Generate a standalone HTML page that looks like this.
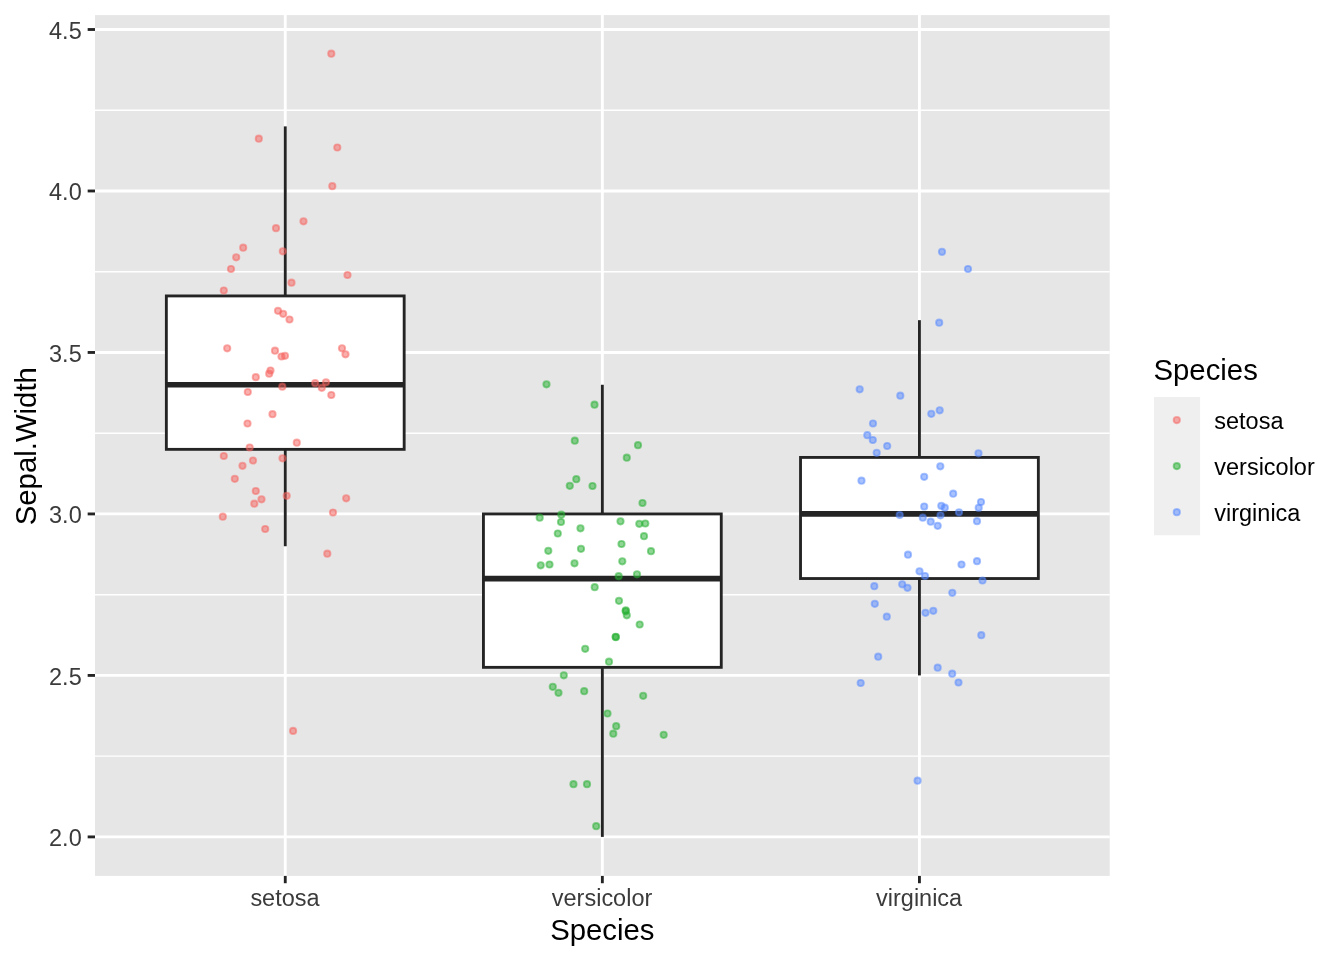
<!DOCTYPE html>
<html lang="en"><head><meta charset="utf-8"><title>Sepal.Width by Species</title>
<style>html,body{margin:0;padding:0;background:#fff}body{width:1344px;height:960px;overflow:hidden}svg{display:block}</style>
</head><body>
<svg width="1344" height="960" viewBox="0 0 1344 960" font-family="'Liberation Sans', Arial, Helvetica, sans-serif">
<rect width="1344" height="960" fill="#fff"/>
<rect x="95.0" y="15.1" width="1014.70" height="860.80" fill="#E6E6E6"/>
<g stroke="#fff" stroke-width="1.42" fill="none">
<line x1="95.0" x2="1109.7" y1="756.16" y2="756.16"/>
<line x1="95.0" x2="1109.7" y1="594.68" y2="594.68"/>
<line x1="95.0" x2="1109.7" y1="433.20" y2="433.20"/>
<line x1="95.0" x2="1109.7" y1="271.72" y2="271.72"/>
<line x1="95.0" x2="1109.7" y1="110.24" y2="110.24"/>
</g>
<g stroke="#fff" stroke-width="2.85" fill="none">
<line x1="95.0" x2="1109.7" y1="836.90" y2="836.90"/>
<line x1="95.0" x2="1109.7" y1="675.42" y2="675.42"/>
<line x1="95.0" x2="1109.7" y1="513.94" y2="513.94"/>
<line x1="95.0" x2="1109.7" y1="352.46" y2="352.46"/>
<line x1="95.0" x2="1109.7" y1="190.98" y2="190.98"/>
<line x1="95.0" x2="1109.7" y1="29.50" y2="29.50"/>
<line x1="285.26" x2="285.26" y1="15.1" y2="875.9"/>
<line x1="602.35" x2="602.35" y1="15.1" y2="875.9"/>
<line x1="919.44" x2="919.44" y1="15.1" y2="875.9"/>
</g>
<g stroke="#242424" stroke-width="2.85" fill="none" stroke-linecap="butt">
<line x1="285.26" x2="285.26" y1="126.39" y2="295.94"/>
<line x1="285.26" x2="285.26" y1="449.35" y2="546.24"/>
<rect x="166.35" y="295.94" width="237.82" height="153.41" fill="#fff" stroke-linejoin="miter"/>
<line x1="166.35" x2="404.17" y1="384.76" y2="384.76" stroke-width="5.7"/>
<line x1="602.35" x2="602.35" y1="384.76" y2="513.94"/>
<line x1="602.35" x2="602.35" y1="667.35" y2="836.90"/>
<rect x="483.44" y="513.94" width="237.82" height="153.41" fill="#fff" stroke-linejoin="miter"/>
<line x1="483.44" x2="721.26" y1="578.53" y2="578.53" stroke-width="5.7"/>
<line x1="919.44" x2="919.44" y1="320.16" y2="457.42"/>
<line x1="919.44" x2="919.44" y1="578.53" y2="675.42"/>
<rect x="800.53" y="457.42" width="237.82" height="121.11" fill="#fff" stroke-linejoin="miter"/>
<line x1="800.53" x2="1038.35" y1="513.94" y2="513.94" stroke-width="5.7"/>
</g>
<g fill="#F5635F" fill-opacity="0.515" stroke="#F5635F" stroke-opacity="0.515" stroke-width="1.9">
<circle cx="331.3" cy="53.7" r="3.15"/>
<circle cx="258.8" cy="138.7" r="3.15"/>
<circle cx="337.3" cy="147.5" r="3.15"/>
<circle cx="332.3" cy="186.2" r="3.15"/>
<circle cx="303.5" cy="221.3" r="3.15"/>
<circle cx="276.0" cy="228.2" r="3.15"/>
<circle cx="243.2" cy="247.7" r="3.15"/>
<circle cx="282.8" cy="251.3" r="3.15"/>
<circle cx="236.2" cy="257.3" r="3.15"/>
<circle cx="231.0" cy="269.0" r="3.15"/>
<circle cx="347.5" cy="275.0" r="3.15"/>
<circle cx="291.5" cy="282.7" r="3.15"/>
<circle cx="223.8" cy="290.5" r="3.15"/>
<circle cx="278.0" cy="310.8" r="3.15"/>
<circle cx="283.2" cy="313.8" r="3.15"/>
<circle cx="289.5" cy="319.5" r="3.15"/>
<circle cx="227.2" cy="348.3" r="3.15"/>
<circle cx="275.0" cy="350.7" r="3.15"/>
<circle cx="281.5" cy="356.5" r="3.15"/>
<circle cx="285.0" cy="355.8" r="3.15"/>
<circle cx="342.0" cy="348.3" r="3.15"/>
<circle cx="345.5" cy="354.3" r="3.15"/>
<circle cx="270.5" cy="370.5" r="3.15"/>
<circle cx="269.2" cy="373.7" r="3.15"/>
<circle cx="255.8" cy="377.2" r="3.15"/>
<circle cx="315.2" cy="383.2" r="3.15"/>
<circle cx="326.0" cy="382.3" r="3.15"/>
<circle cx="282.3" cy="386.7" r="3.15"/>
<circle cx="321.8" cy="387.8" r="3.15"/>
<circle cx="247.8" cy="392.0" r="3.15"/>
<circle cx="331.3" cy="395.0" r="3.15"/>
<circle cx="272.5" cy="414.2" r="3.15"/>
<circle cx="247.5" cy="423.5" r="3.15"/>
<circle cx="296.8" cy="442.7" r="3.15"/>
<circle cx="249.7" cy="447.5" r="3.15"/>
<circle cx="223.8" cy="456.0" r="3.15"/>
<circle cx="282.5" cy="458.3" r="3.15"/>
<circle cx="253.0" cy="460.5" r="3.15"/>
<circle cx="242.5" cy="465.8" r="3.15"/>
<circle cx="234.8" cy="478.8" r="3.15"/>
<circle cx="255.8" cy="491.0" r="3.15"/>
<circle cx="286.7" cy="495.8" r="3.15"/>
<circle cx="346.2" cy="498.3" r="3.15"/>
<circle cx="261.5" cy="499.3" r="3.15"/>
<circle cx="254.3" cy="503.7" r="3.15"/>
<circle cx="333.0" cy="512.5" r="3.15"/>
<circle cx="222.8" cy="516.7" r="3.15"/>
<circle cx="265.2" cy="529.0" r="3.15"/>
<circle cx="327.3" cy="553.7" r="3.15"/>
<circle cx="293.1" cy="730.9" r="3.15"/>
</g>
<g fill="#25B030" fill-opacity="0.515" stroke="#25B030" stroke-opacity="0.515" stroke-width="1.9">
<circle cx="546.5" cy="384.3" r="3.15"/>
<circle cx="594.5" cy="404.7" r="3.15"/>
<circle cx="574.8" cy="440.7" r="3.15"/>
<circle cx="638.0" cy="445.2" r="3.15"/>
<circle cx="626.8" cy="457.7" r="3.15"/>
<circle cx="576.3" cy="479.2" r="3.15"/>
<circle cx="569.8" cy="485.8" r="3.15"/>
<circle cx="592.5" cy="486.0" r="3.15"/>
<circle cx="642.5" cy="503.0" r="3.15"/>
<circle cx="561.3" cy="514.7" r="3.15"/>
<circle cx="539.7" cy="517.7" r="3.15"/>
<circle cx="561.0" cy="522.0" r="3.15"/>
<circle cx="620.5" cy="521.3" r="3.15"/>
<circle cx="639.3" cy="523.8" r="3.15"/>
<circle cx="645.3" cy="523.5" r="3.15"/>
<circle cx="580.5" cy="528.3" r="3.15"/>
<circle cx="557.8" cy="533.5" r="3.15"/>
<circle cx="644.0" cy="536.2" r="3.15"/>
<circle cx="621.5" cy="544.0" r="3.15"/>
<circle cx="581.0" cy="548.8" r="3.15"/>
<circle cx="548.3" cy="550.8" r="3.15"/>
<circle cx="651.0" cy="551.2" r="3.15"/>
<circle cx="622.3" cy="561.3" r="3.15"/>
<circle cx="574.5" cy="563.3" r="3.15"/>
<circle cx="549.5" cy="564.5" r="3.15"/>
<circle cx="540.7" cy="565.3" r="3.15"/>
<circle cx="637.0" cy="574.3" r="3.15"/>
<circle cx="618.7" cy="576.2" r="3.15"/>
<circle cx="594.7" cy="587.2" r="3.15"/>
<circle cx="619.0" cy="600.8" r="3.15"/>
<circle cx="625.8" cy="610.3" r="3.15"/>
<circle cx="625.7" cy="611.3" r="3.15"/>
<circle cx="626.8" cy="615.3" r="3.15"/>
<circle cx="639.7" cy="624.5" r="3.15"/>
<circle cx="615.7" cy="636.8" r="3.15"/>
<circle cx="615.8" cy="637.2" r="3.15"/>
<circle cx="585.2" cy="648.8" r="3.15"/>
<circle cx="609.0" cy="661.7" r="3.15"/>
<circle cx="563.8" cy="675.3" r="3.15"/>
<circle cx="552.8" cy="686.8" r="3.15"/>
<circle cx="558.5" cy="692.8" r="3.15"/>
<circle cx="584.2" cy="691.2" r="3.15"/>
<circle cx="643.2" cy="695.8" r="3.15"/>
<circle cx="607.5" cy="713.5" r="3.15"/>
<circle cx="616.2" cy="726.2" r="3.15"/>
<circle cx="613.3" cy="733.7" r="3.15"/>
<circle cx="663.7" cy="734.8" r="3.15"/>
<circle cx="573.5" cy="784.2" r="3.15"/>
<circle cx="587.0" cy="784.2" r="3.15"/>
<circle cx="596.2" cy="826.2" r="3.15"/>
</g>
<g fill="#5588FF" fill-opacity="0.515" stroke="#5588FF" stroke-opacity="0.515" stroke-width="1.9">
<circle cx="942.0" cy="251.8" r="3.15"/>
<circle cx="968.0" cy="269.0" r="3.15"/>
<circle cx="939.2" cy="322.7" r="3.15"/>
<circle cx="859.7" cy="389.3" r="3.15"/>
<circle cx="900.3" cy="395.7" r="3.15"/>
<circle cx="939.7" cy="410.3" r="3.15"/>
<circle cx="931.3" cy="413.8" r="3.15"/>
<circle cx="873.0" cy="423.5" r="3.15"/>
<circle cx="867.3" cy="435.2" r="3.15"/>
<circle cx="872.8" cy="440.0" r="3.15"/>
<circle cx="887.2" cy="446.0" r="3.15"/>
<circle cx="876.7" cy="452.8" r="3.15"/>
<circle cx="978.5" cy="453.3" r="3.15"/>
<circle cx="940.3" cy="466.3" r="3.15"/>
<circle cx="924.2" cy="476.8" r="3.15"/>
<circle cx="861.5" cy="480.7" r="3.15"/>
<circle cx="953.2" cy="493.7" r="3.15"/>
<circle cx="981.0" cy="502.0" r="3.15"/>
<circle cx="924.2" cy="506.5" r="3.15"/>
<circle cx="941.3" cy="505.8" r="3.15"/>
<circle cx="944.8" cy="507.7" r="3.15"/>
<circle cx="978.7" cy="507.8" r="3.15"/>
<circle cx="959.0" cy="512.3" r="3.15"/>
<circle cx="940.5" cy="515.3" r="3.15"/>
<circle cx="899.7" cy="515.0" r="3.15"/>
<circle cx="922.8" cy="517.7" r="3.15"/>
<circle cx="930.7" cy="521.7" r="3.15"/>
<circle cx="977.0" cy="521.2" r="3.15"/>
<circle cx="937.7" cy="525.8" r="3.15"/>
<circle cx="908.0" cy="554.7" r="3.15"/>
<circle cx="977.0" cy="561.2" r="3.15"/>
<circle cx="961.5" cy="564.5" r="3.15"/>
<circle cx="919.5" cy="571.3" r="3.15"/>
<circle cx="925.0" cy="576.0" r="3.15"/>
<circle cx="982.5" cy="580.5" r="3.15"/>
<circle cx="874.3" cy="586.2" r="3.15"/>
<circle cx="902.2" cy="584.3" r="3.15"/>
<circle cx="907.5" cy="587.8" r="3.15"/>
<circle cx="952.3" cy="592.8" r="3.15"/>
<circle cx="874.8" cy="603.8" r="3.15"/>
<circle cx="933.3" cy="610.8" r="3.15"/>
<circle cx="925.5" cy="612.8" r="3.15"/>
<circle cx="886.8" cy="616.7" r="3.15"/>
<circle cx="981.3" cy="635.2" r="3.15"/>
<circle cx="878.2" cy="656.7" r="3.15"/>
<circle cx="937.7" cy="667.7" r="3.15"/>
<circle cx="952.2" cy="673.7" r="3.15"/>
<circle cx="958.5" cy="682.5" r="3.15"/>
<circle cx="860.7" cy="683.0" r="3.15"/>
<circle cx="917.6" cy="780.7" r="3.15"/>
</g>
<g stroke="#242424" stroke-width="2.85">
<line x1="87.67" x2="95.0" y1="836.90" y2="836.90"/>
<line x1="87.67" x2="95.0" y1="675.42" y2="675.42"/>
<line x1="87.67" x2="95.0" y1="513.94" y2="513.94"/>
<line x1="87.67" x2="95.0" y1="352.46" y2="352.46"/>
<line x1="87.67" x2="95.0" y1="190.98" y2="190.98"/>
<line x1="87.67" x2="95.0" y1="29.50" y2="29.50"/>
<line x1="285.26" x2="285.26" y1="875.9" y2="883.23"/>
<line x1="602.35" x2="602.35" y1="875.9" y2="883.23"/>
<line x1="919.44" x2="919.44" y1="875.9" y2="883.23"/>
</g>
<g fill="#3B3B3B" font-size="23.47px">
<text x="81.7" y="846.10" text-anchor="end">2.0</text>
<text x="81.7" y="684.62" text-anchor="end">2.5</text>
<text x="81.7" y="523.14" text-anchor="end">3.0</text>
<text x="81.7" y="361.66" text-anchor="end">3.5</text>
<text x="81.7" y="200.18" text-anchor="end">4.0</text>
<text x="81.7" y="38.70" text-anchor="end">4.5</text>
<text x="284.96" y="905.9" text-anchor="middle">setosa</text>
<text x="602.05" y="905.9" text-anchor="middle">versicolor</text>
<text x="919.14" y="905.9" text-anchor="middle">virginica</text>
</g>
<g fill="#000" font-size="29.33px">
<text x="602.35" y="939.6" text-anchor="middle">Species</text>
<text transform="translate(35.6,446.20) rotate(-90)" text-anchor="middle">Sepal.Width</text>
<text x="1153.5" y="380.3">Species</text>
</g>
<rect x="1154" y="397" width="46.08" height="138.24" fill="#EFEFEF"/>
<circle cx="1176.8" cy="420.04" r="3.15" fill="#F5635F" fill-opacity="0.515" stroke="#F5635F" stroke-opacity="0.515" stroke-width="1.9"/>
<text x="1214.3" y="429.04" font-size="23.47px" fill="#000">setosa</text>
<circle cx="1176.8" cy="466.12" r="3.15" fill="#25B030" fill-opacity="0.515" stroke="#25B030" stroke-opacity="0.515" stroke-width="1.9"/>
<text x="1214.3" y="475.12" font-size="23.47px" fill="#000">versicolor</text>
<circle cx="1176.8" cy="512.20" r="3.15" fill="#5588FF" fill-opacity="0.515" stroke="#5588FF" stroke-opacity="0.515" stroke-width="1.9"/>
<text x="1214.3" y="521.20" font-size="23.47px" fill="#000">virginica</text>
</svg>
</body></html>
